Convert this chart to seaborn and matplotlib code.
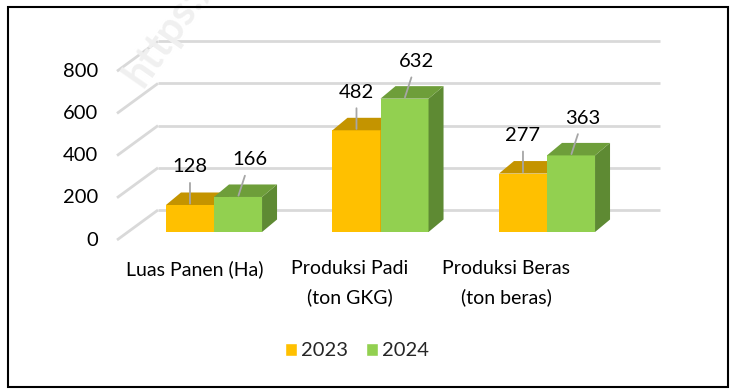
import matplotlib
matplotlib.use("Agg")
import matplotlib.pyplot as plt
import seaborn as sns
import pandas as pd
from matplotlib.patches import Polygon, Rectangle, Patch

categories = ["Luas Panen (Ha)", "Produksi Padi\n(ton GKG)", "Produksi Beras\n(ton beras)"]
years = ["2023", "2024"]
values_2023 = [128, 482, 277]
values_2024 = [166, 632, 363]
y_ticks = [0, 200, 400, 600, 800]

yellow, green = "#FFC000", "#92D050"
top_cols = {"2023": "#C49400", "2024": "#6E9E3A"}
side_cols = {"2023": "#C49400", "2024": "#5E8A33"}

df = pd.DataFrame({
    "kategori": categories * 2,
    "tahun": [years[0]] * 3 + [years[1]] * 3,
    "nilai": values_2023 + values_2024,
})

sns.set_theme(style="white")
plt.rcParams["font.family"] = ["Lato", "DejaVu Sans"]

W, H = 735, 392
fig = plt.figure(figsize=(W / 100, H / 100), dpi=100)
ax = fig.add_axes([0, 0, 1, 1])

# pixel mapping helpers (layout only)
X0, XS = 214.0, 166.5     # pixel x of category 0, pixels per category
Y0, YS = 232.0, 0.211     # pixel y (from top) of value 0, pixels per unit

def px2x(p):
    return (p - X0) / XS

def dpx2v(d):
    return d / YS

sns.barplot(data=df, x="kategori", y="nilai", hue="tahun", palette=[yellow, green],
            width=0.577, saturation=1, ax=ax, legend=False, linewidth=0,
            edgecolor="none", errorbar=None)

ax.set_xlim(px2x(0), px2x(W))
ax.set_ylim(-(H - Y0) / YS, Y0 / YS)
ax.axis("off")

# back wall gridlines and floor diagonals
back_dv = dpx2v(22)
front_dv = dpx2v(-8)
gcol = "#D9D9D9"
for L in y_ticks:
    ax.plot([px2x(158), px2x(660)], [L + back_dv, L + back_dv], color=gcol, lw=2, zorder=0,
            solid_capstyle="butt")
    ax.plot([px2x(117), px2x(158)], [L + front_dv, L + back_dv], color=gcol, lw=2, zorder=0,
            solid_capstyle="butt")
    ax.text(px2x(98), L + front_dv, f"{L}", ha="right", va="center", fontsize=14.5,
            color="black")

# 3D faces
ddx = 15 / XS
ddv = dpx2v(12.5)
for ci, (year, cont) in enumerate(zip(years, ax.containers)):
    z = 3 + ci
    for bar in cont:
        bar.set_zorder(z)
        x0 = bar.get_x()
        w = bar.get_width()
        h = bar.get_height()
        top = Polygon([(x0, h), (x0 + w, h), (x0 + w + ddx, h + ddv), (x0 + ddx, h + ddv)],
                      closed=True, facecolor=top_cols[year], edgecolor="none", zorder=z)
        side = Polygon([(x0 + w, 0), (x0 + w + ddx, ddv), (x0 + w + ddx, h + ddv), (x0 + w, h)],
                       closed=True, facecolor=side_cols[year], edgecolor="none", zorder=z)
        ax.add_patch(side)
        ax.add_patch(top)
        cx = x0 + w / 2
        if year == "2023":
            off = (0, 38)
        else:
            off = (12, 37)
        ax.annotate(f"{int(h)}", xy=(cx, h), xytext=off, textcoords="offset pixels",
                    ha="center", va="center", fontsize=14.5, color="black", zorder=6,
                    arrowprops=dict(arrowstyle="-", color="#A6A6A6", lw=1.3,
                                    shrinkA=3, shrinkB=1))

# category labels
label_px = [195, 350, 506]
for lab, px in zip(categories, label_px):
    ax.text(px2x(px), -dpx2v(260 - Y0), lab, ha="center", va="top", fontsize=14,
            linespacing=1.75, color="black")

# legend
handles = [Patch(facecolor=yellow, label=years[0]), Patch(facecolor=green, label=years[1])]
fig.legend(handles=handles, loc="center", bbox_to_anchor=(357 / W, 1 - 351 / H), ncol=2,
           frameon=False, fontsize=14.5, handlelength=0.6, handleheight=0.6,
           handletextpad=0.2, columnspacing=0.9, borderpad=0.2)

# faint watermark
wm = ax.text(px2x(175), -dpx2v(22 - Y0), "https://", rotation=55, fontsize=30,
             fontweight="bold", color="#F0F0F0", ha="center", va="center", zorder=0.5)
frame = Rectangle((8 / W, 1 - 387 / H), 720 / W, 380 / H, transform=fig.transFigure,
                  fill=False, edgecolor="black", lw=1.5, zorder=10)
wm.set_clip_path(frame)
fig.patches.append(frame)

fig.savefig("out.png", dpi=100, facecolor="white")
